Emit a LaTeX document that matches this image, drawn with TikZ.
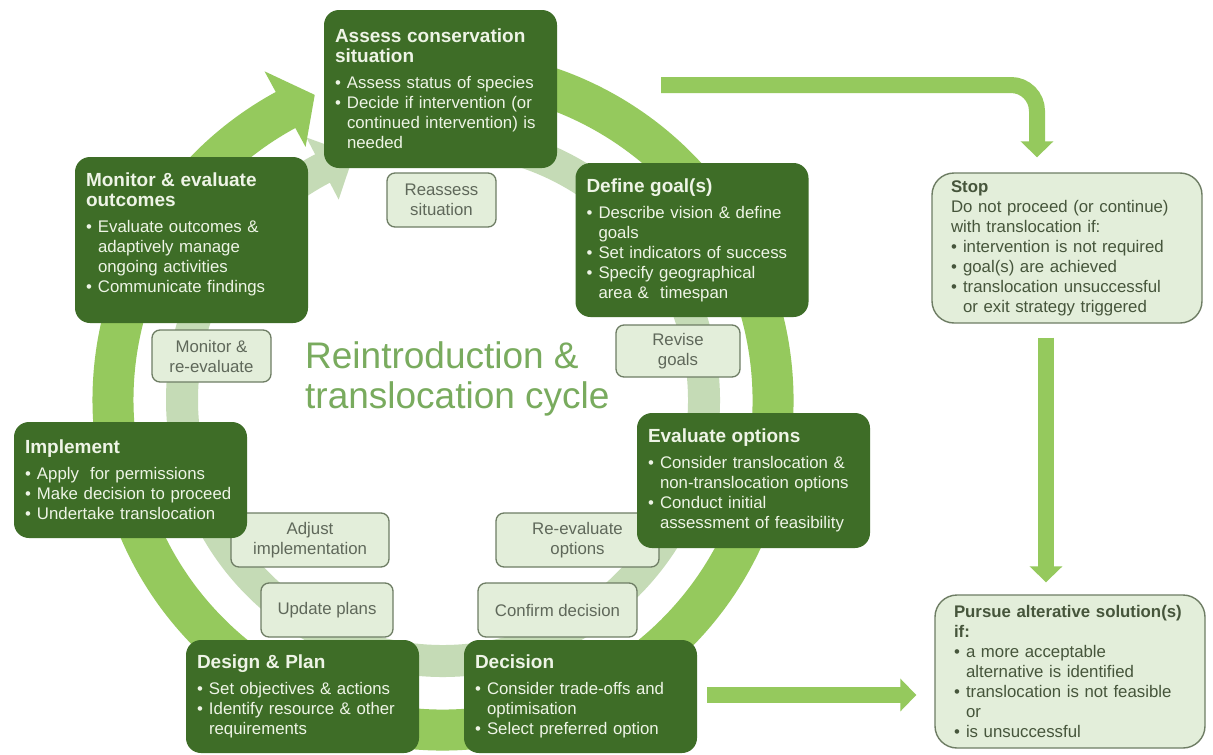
\documentclass[tikz,border=0pt]{standalone}
\usepackage{fontspec}
\setmainfont{Liberation Sans}
\usetikzlibrary{arrows.meta,calc}
\definecolor{dkbox}{HTML}{3E6D27}
\definecolor{dktext}{HTML}{EEF4E6}
\definecolor{ringgreen}{HTML}{95C95D}
\definecolor{palering}{HTML}{C5DBB6}
\definecolor{lblfill}{HTML}{E3EEDA}
\definecolor{lblline}{HTML}{6E7D64}
\definecolor{lbltext}{HTML}{5F685A}
\definecolor{sidetext}{HTML}{46553B}
\definecolor{titlecol}{HTML}{79AB5E}
\newcommand{\bodysize}{\fontsize{16.8}{20}\selectfont}
\newcommand{\nl}{\hfil\break}
\newcommand{\hd}[1]{{\fontsize{19}{20}\selectfont\bfseries #1\par}\vspace{6pt}}
\newcommand{\sidehd}[1]{{\bfseries #1\par}}
\newcommand{\bi}[1]{\par\hangindent=12pt\hangafter=1\noindent\makebox[12pt][l]{\textbullet}#1\par}
\newcommand{\bottompad}[1]{\par\kern#1\nointerlineskip\hbox{}}
\tikzset{
  darkbox/.style={fill=dkbox, rounded corners=15pt, text=dktext, text width=211pt,
    inner xsep=11pt, inner ysep=0pt, font=\bodysize, align=left, minimum width=233pt},
  sidebox/.style={fill=lblfill, draw=lblline, line width=1.4pt, rounded corners=22pt,
    text=sidetext, text width=232pt, inner xsep=19pt, inner ysep=0pt, font=\bodysize,
    align=left, minimum width=270pt},
  lblbox/.style={fill=lblfill, draw=lblline, line width=1.3pt, rounded corners=8pt,
    text=lbltext, font=\bodysize, align=center, inner sep=0pt},
  bigarrow/.style={draw=ringgreen, line width=16pt, -{Triangle[width=32pt,length=16pt]}},
  titletext/.style={anchor=base west, text=titlecol, font=\fontsize{37}{40}\selectfont, inner sep=0pt}
}
\begin{document}
\begin{tikzpicture}[x=1pt,y=1pt]
\useasboundingbox (0,0) rectangle (1213,-755);
\fill[white] (0,0) rectangle (1213,-755);
% rings
\coordinate (c) at (443,-400);
\draw[palering, line width=32pt] ($(c)+(95:261)$) arc[start angle=95, end angle=-243.5, radius=261];
\fill[palering] ($(c)+(117.5:226)$) -- ($(c)+(117.5:296)$) -- ($(c)+(110:261)$) -- cycle;
\draw[ringgreen, line width=41pt] ($(c)+(100:330)$) arc[start angle=100, end angle=-242.5, radius=330];
\fill[ringgreen] ($(c)+(118.5:288)$) -- ($(c)+(118.5:374)$) -- ($(c)+(112.8:331)$) -- cycle;
% title
\node[titletext] (title1) at (305,-368) {Reintroduction \&};
\node[titletext] (title2) at (305,-408) {translocation cycle};
% label boxes
\node[lblbox, minimum width=109pt, minimum height=54pt] (reassess) at (441.5,-200) {Reassess\\situation};
\node[lblbox, minimum width=124pt, minimum height=52pt] (revise) at (678,-351) {Revise\\goals};
\node[lblbox, minimum width=119pt, minimum height=52pt] (monre) at (211.5,-356) {Monitor \&\\re-evaluate};
\node[lblbox, minimum width=158pt, minimum height=54pt] (adjust) at (310,-540) {Adjust\\implementation};
\node[lblbox, minimum width=163pt, minimum height=54pt] (reeval) at (577.5,-540) {Re-evaluate\\options};
\node[lblbox, minimum width=132pt, minimum height=54pt] (update) at (327,-610) {Update plans};
\node[lblbox, minimum width=159pt, minimum height=54pt] (confirm) at (557.5,-610) {Confirm decision};
% dark boxes
\node[darkbox, minimum height=158pt] (assess) at (440.5,-89)
  {\hd{Assess conservation\nl situation}\bi{Assess status of species}\bi{Decide if intervention (or\nl continued intervention) is\nl needed}};
\node[darkbox, minimum height=154pt] (define) at (692,-240)
  {\hd{Define goal(s)}\bi{Describe vision \& define\nl goals}\bi{Set indicators of success}\bi{Specify geographical\nl area \&\ \ timespan}};
\node[darkbox, minimum height=135pt] (evaluate) at (753.5,-480.5)
  {\hd{Evaluate options}\bi{Consider translocation \&\nl non-translocation options}\bi{Conduct initial\nl assessment of feasibility}};
\node[darkbox, minimum height=113pt] (decision) at (580.5,-696.5)
  {\hd{Decision}\bi{Consider trade-offs and\nl optimisation}\bi{Select preferred option}};
\node[darkbox, minimum height=113pt] (design) at (302.5,-696.5)
  {\hd{Design \& Plan}\bi{Set objectives \& actions}\bi{Identify resource \& other\nl requirements}};
\node[darkbox, minimum height=116pt] (implement) at (130.5,-480)
  {\hd{Implement}\bi{Apply\ \ for permissions}\bi{Make decision to proceed}\bi{Undertake translocation}};
\node[darkbox, minimum height=166pt] (monitor) at (191.5,-240)
  {\hd{Monitor \& evaluate\nl outcomes}\bi{Evaluate outcomes \&\nl adaptively manage\nl ongoing activities}\bi{Communicate findings}\bottompad{12pt}};
% side boxes
\node[sidebox, minimum height=150pt] (stop) at (1067,-248)
  {\sidehd{Stop}Do not proceed (or continue)\nl with translocation if:\bi{intervention is not required}\bi{goal(s) are achieved}\bi{translocation unsuccessful\nl or exit strategy triggered}};
\node[sidebox, minimum height=153pt] (pursue) at (1070,-671.5)
  {\sidehd{Pursue alterative solution(s)\nl if:}\bi{a more acceptable\nl alternative is identified}\bi{translocation is not feasible\nl or}\bi{is unsuccessful}};
% arrows
\coordinate (t0) at (661,-85);
\draw[bigarrow, rounded corners=26pt, shorten >=15pt] (t0) -| ([xshift=-30pt]stop.north);
\draw[bigarrow, shorten <=14pt, shorten >=12pt] ([xshift=-21pt]stop.south) -- ([xshift=-21pt]stop.south |- pursue.north);
\draw[bigarrow, shorten <=10pt, shorten >=18pt] ([yshift=1.5pt]decision.east) -- ([yshift=1.5pt]decision.east -| pursue.west);
\end{tikzpicture}
\end{document}
